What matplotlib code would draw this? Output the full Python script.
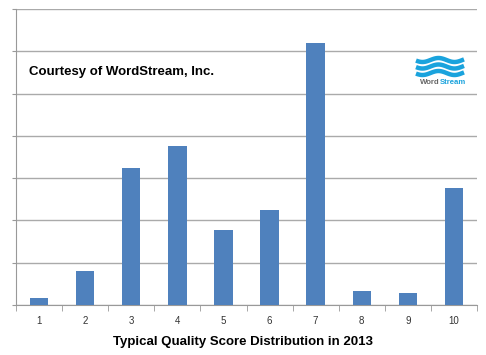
import numpy as np
import matplotlib
matplotlib.use("Agg")
import matplotlib.pyplot as plt

plt.rcParams['font.family'] = ['Liberation Sans', 'DejaVu Sans']

categories = ['1', '2', '3', '4', '5', '6', '7', '8', '9', '10']
values = [0.17, 0.81, 3.24, 3.76, 1.77, 2.25, 6.19, 0.33, 0.28, 2.77]
title = 'Typical Quality Score Distribution in 2013'
courtesy = 'Courtesy of WordStream, Inc.'

W, H = 486, 355
fig = plt.figure(figsize=(W/100, H/100), dpi=100)
ax = fig.add_axes([16/W, 1-305/H, (477-16)/W, (305-9)/H])

x = np.arange(len(categories))
ax.bar(x, values, width=0.4, color='#4F81BD', zorder=3)
ax.set_xlim(-0.5, len(categories)-0.5)
ax.set_ylim(0, 7)
ax.set_yticks(np.arange(0, 8))
ax.set_yticklabels([])
ax.tick_params(axis='y', length=3, color='#999999', direction='out')
ax.yaxis.grid(True, color='#AAAAAA', linewidth=1, zorder=0)
ax.set_xticks(x)
ax.set_xticklabels(categories, fontsize=7, color='#333333')
ax.set_xticks(np.arange(-0.5, len(categories)), minor=True)
ax.tick_params(axis='x', which='major', length=0, pad=8)
ax.tick_params(axis='x', which='minor', length=4, color='#999999', direction='out')
for s in ['top', 'right']:
    ax.spines[s].set_visible(False)
ax.spines['left'].set_color('#999999')
ax.spines['bottom'].set_color('#999999')

fig.text(29/W, 1-72/H, courtesy, fontsize=9.5, fontweight='bold', va='center', ha='left')
fig.text(243/W, 1-342/H, title, fontsize=9.5, fontweight='bold', va='center', ha='center')

# logo
lx = np.linspace(416, 464, 100)
for yc in [60, 66.5, 73]:
    ly = yc + 2.0*np.sin((lx-416)/48*2*np.pi*1.5 + 0.3)
    fig.add_artist(plt.Line2D(lx/W, 1-ly/H, color='#1AA3DD', linewidth=3.2,
                              transform=fig.transFigure, solid_capstyle='butt'))
fig.text(440/W, 1-83/H, 'Word', fontsize=5.6, color='#666666', ha='right', va='center', fontweight='bold')
fig.text(440/W, 1-83/H, 'Stream', fontsize=5.6, color='#1AA3DD', ha='left', va='center', fontweight='bold')

fig.savefig('out.png', dpi=100)
